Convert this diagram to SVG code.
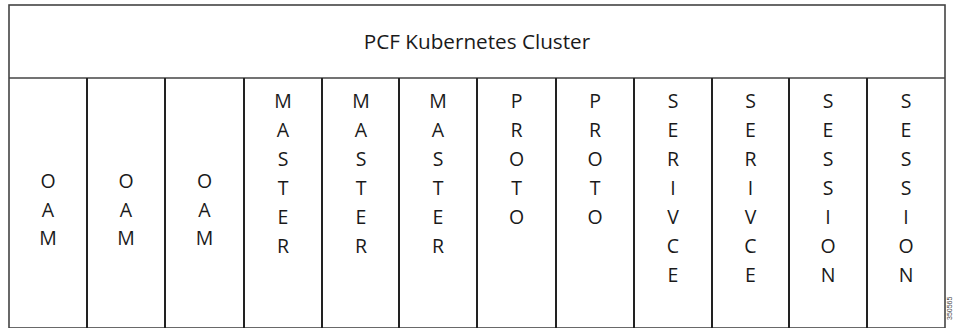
<svg xmlns="http://www.w3.org/2000/svg" width="956" height="328" viewBox="0 0 956 328">
<style>
.frame{fill:#fff;stroke:#444;stroke-width:1.6}
.div{stroke:#222;stroke-width:2}
.t{font-family:"Open Sans","Liberation Sans",sans-serif;font-size:19.5px;fill:#1a1a1a;text-anchor:middle}
.title{font-family:"Open Sans","Liberation Sans",sans-serif;font-size:20.7px;fill:#1a1a1a;text-anchor:middle}
.wm{font-family:"Liberation Sans",sans-serif;font-size:7px;fill:#444}
</style>
<rect x="0" y="0" width="956" height="328" fill="#fff"/>
<g id="cluster">
<rect class="frame" x="9" y="5" width="936" height="323"/>
<line class="frame" x1="9" y1="78" x2="945" y2="78"/>
<text class="title" x="477" y="49">PCF Kubernetes Cluster</text>
</g>
<g id="dividers">
<line class="div" x1="87" y1="78" x2="87" y2="328"/>
<line class="div" x1="165" y1="78" x2="165" y2="328"/>
<line class="div" x1="244" y1="78" x2="244" y2="328"/>
<line class="div" x1="322" y1="78" x2="322" y2="328"/>
<line class="div" x1="399" y1="78" x2="399" y2="328"/>
<line class="div" x1="477" y1="78" x2="477" y2="328"/>
<line class="div" x1="556" y1="78" x2="556" y2="328"/>
<line class="div" x1="634" y1="78" x2="634" y2="328"/>
<line class="div" x1="712" y1="78" x2="712" y2="328"/>
<line class="div" x1="789" y1="78" x2="789" y2="328"/>
<line class="div" x1="867" y1="78" x2="867" y2="328"/>
</g>
<g id="oam1"><text class="t"><tspan x="48" y="188">O</tspan><tspan x="48" y="217">A</tspan><tspan x="48" y="245">M</tspan></text></g>
<g id="oam2"><text class="t"><tspan x="126" y="188">O</tspan><tspan x="126" y="217">A</tspan><tspan x="126" y="245">M</tspan></text></g>
<g id="oam3"><text class="t"><tspan x="204.5" y="188">O</tspan><tspan x="204.5" y="217">A</tspan><tspan x="204.5" y="245">M</tspan></text></g>
<g id="master1"><text class="t"><tspan x="283" y="108">M</tspan><tspan x="283" y="137">A</tspan><tspan x="283" y="166">S</tspan><tspan x="283" y="195">T</tspan><tspan x="283" y="224">E</tspan><tspan x="283" y="253">R</tspan></text></g>
<g id="master2"><text class="t"><tspan x="361" y="108">M</tspan><tspan x="361" y="137">A</tspan><tspan x="361" y="166">S</tspan><tspan x="361" y="195">T</tspan><tspan x="361" y="224">E</tspan><tspan x="361" y="253">R</tspan></text></g>
<g id="master3"><text class="t"><tspan x="438" y="108">M</tspan><tspan x="438" y="137">A</tspan><tspan x="438" y="166">S</tspan><tspan x="438" y="195">T</tspan><tspan x="438" y="224">E</tspan><tspan x="438" y="253">R</tspan></text></g>
<g id="proto1"><text class="t"><tspan x="516.5" y="108">P</tspan><tspan x="516.5" y="137">R</tspan><tspan x="516.5" y="166">O</tspan><tspan x="516.5" y="195">T</tspan><tspan x="516.5" y="224">O</tspan></text></g>
<g id="proto2"><text class="t"><tspan x="595" y="108">P</tspan><tspan x="595" y="137">R</tspan><tspan x="595" y="166">O</tspan><tspan x="595" y="195">T</tspan><tspan x="595" y="224">O</tspan></text></g>
<g id="serivce1"><text class="t"><tspan x="673" y="108">S</tspan><tspan x="673" y="137">E</tspan><tspan x="673" y="166">R</tspan><tspan x="673" y="195">I</tspan><tspan x="673" y="224">V</tspan><tspan x="673" y="253">C</tspan><tspan x="673" y="282">E</tspan></text></g>
<g id="serivce2"><text class="t"><tspan x="750.5" y="108">S</tspan><tspan x="750.5" y="137">E</tspan><tspan x="750.5" y="166">R</tspan><tspan x="750.5" y="195">I</tspan><tspan x="750.5" y="224">V</tspan><tspan x="750.5" y="253">C</tspan><tspan x="750.5" y="282">E</tspan></text></g>
<g id="session1"><text class="t"><tspan x="828" y="108">S</tspan><tspan x="828" y="137">E</tspan><tspan x="828" y="166">S</tspan><tspan x="828" y="195">S</tspan><tspan x="828" y="224">I</tspan><tspan x="828" y="253">O</tspan><tspan x="828" y="282">N</tspan></text></g>
<g id="session2"><text class="t"><tspan x="906" y="108">S</tspan><tspan x="906" y="137">E</tspan><tspan x="906" y="166">S</tspan><tspan x="906" y="195">S</tspan><tspan x="906" y="224">I</tspan><tspan x="906" y="253">O</tspan><tspan x="906" y="282">N</tspan></text></g>
<text class="wm" transform="translate(952,320) rotate(-90)">350565</text>
</svg>
